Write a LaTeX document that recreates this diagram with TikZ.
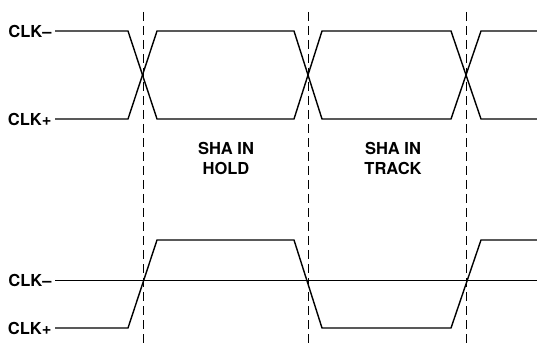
\documentclass[tikz,border=0pt]{standalone}
\usepackage{fontspec}
\setmainfont{TeX Gyre Heros}
\tikzset{x=1pt, y=-1pt,
    every node/.append style={font=\fontsize{16.5}{20}\selectfont\bfseries},
    wave/.style={line width=1.4pt, line join=miter},
    marker/.style={dash pattern=on 9pt off 5pt, line width=0.8pt}}

\begin{document}
\begin{tikzpicture}
    \useasboundingbox (0,0) rectangle (537,344);
    % sampling instants
    \foreach \x in {143,308,466}
        \draw[marker] (\x,12) -- (\x,344);
    % differential clock, top
    \node[anchor=east] (minusA) at (55,31) {CLK–};
    \node[anchor=east] (plusA) at (55,119) {CLK+};
    \draw[wave] (minusA.east) -- (128,31) -- (157,119) -- (294,119) -- (322,31)
        -- (451,31) -- (481,119) -- (537,119);
    \draw[wave] (plusA.east) -- (128,119) -- (157,31) -- (294,31) -- (322,119)
        -- (451,119) -- (481,31) -- (537,31);
    \node[align=center] (hold) at (226,158.5) {SHA IN\\HOLD};
    \node[align=center] (track) at (393,158.5) {SHA IN\\TRACK};
    % single-ended clock, bottom
    \node[anchor=east] (minusB) at (55,280) {CLK–};
    \node[anchor=east] (plusB) at (55,328) {CLK+};
    \draw[line width=1pt] (minusB.east) -- (537,280);
    \draw[wave] (plusB.east) -- (128,328) -- (157,240) -- (294,240) -- (322,328)
        -- (451,328) -- (481,240) -- (537,240);
\end{tikzpicture}
\end{document}
